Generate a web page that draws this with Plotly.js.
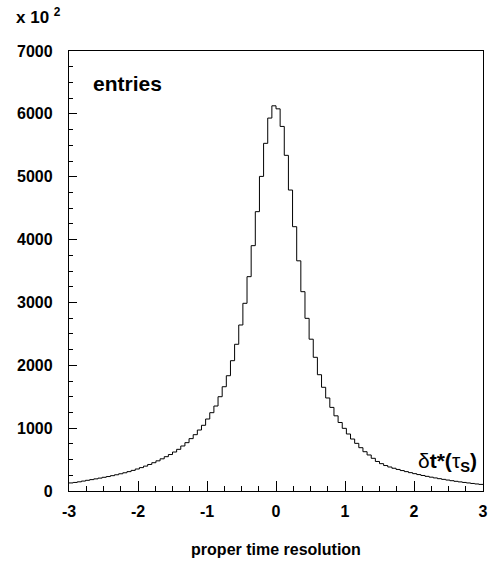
<!DOCTYPE html>
<html>
<head>
<meta charset="utf-8">
<script src="https://cdn.plot.ly/plotly-3.0.1.min.js"></script>
<style>html,body{margin:0;padding:0;background:#fff;}#chart{width:488px;height:566px;}</style>
</head>
<body>
<div id="chart"></div>
<script>
// Histogram definition (proper time resolution, units of tau_S), counts in units of 10^2
const xMin = -3;
const xMax = 3;
const counts = [
  128, 136, 146, 158, 170, 181, 193, 205, 218, 230,
  244, 258, 274, 290, 308, 328, 350, 372, 396, 422,
  450, 480, 512, 546, 580, 620, 663, 716, 769, 833,
  896, 970, 1045, 1145, 1246, 1352, 1500, 1659, 1834, 2073,
  2334, 2641, 2986, 3410, 3903, 4444, 5005, 5531, 5933, 6128,
  6080, 5800, 5340, 4788, 4205, 3662, 3171, 2747, 2415, 2127,
  1850, 1650, 1480, 1330, 1196, 1090, 997, 907, 827, 758,
  689, 625, 573, 520, 470, 435, 405, 382, 362, 343,
  325, 308, 292, 276, 261, 247, 233, 220, 208, 196,
  185, 174, 164, 154, 145, 136, 128, 120, 112, 105
];
const xTickVals = [-3, -2, -1, 0, 1, 2, 3];
const xTickText = ['-3', '-2', '-1', '0', '1', '2', '3'];
const yTickVals = [0, 1000, 2000, 3000, 4000, 5000, 6000, 7000];
const yTickText = ['0', '1000', '2000', '3000', '4000', '5000', '6000', '7000'];

const nBins = counts.length;
const binW = (xMax - xMin) / nBins;
const xs = counts.map((_, i) => xMin + i * binW).concat([xMax]);
const ys = counts.concat([counts[nBins - 1]]);

const fontFam = 'Liberation Sans, Arial, sans-serif';
const trace = {
  x: xs, y: ys, type: 'scatter', mode: 'lines',
  line: {shape: 'hv', color: '#000', width: 1},
  hoverinfo: 'skip'
};

const layout = {
  width: 488, height: 566,
  margin: {l: 69, r: 5, t: 51, b: 75},
  paper_bgcolor: '#fff', plot_bgcolor: '#fff',
  showlegend: false,
  font: {family: fontFam, color: '#000'},
  xaxis: {
    range: [xMin, xMax], showgrid: false, zeroline: false,
    showline: true, mirror: true, linecolor: '#000', linewidth: 1.2,
    ticks: 'inside', ticklen: 10, tickwidth: 1, tickcolor: '#000',
    tickvals: xTickVals, ticktext: xTickText,
    tickfont: {family: fontFam, size: 16, weight: 'bold', color: '#000'},
    ticklabelstandoff: 6,
    minor: {dtick: 0.25, ticks: 'inside', ticklen: 5, tickcolor: '#000', tickwidth: 1, showgrid: false},
    title: {text: 'proper time resolution', font: {family: fontFam, size: 16, weight: 'bold', color: '#000'}, standoff: 24},
    fixedrange: true
  },
  yaxis: {
    range: [0, 7000], showgrid: false, zeroline: false,
    showline: true, mirror: true, linecolor: '#000', linewidth: 1.2,
    ticks: 'inside', ticklen: 8, tickwidth: 1, tickcolor: '#000',
    tickvals: yTickVals, ticktext: yTickText,
    tickfont: {family: fontFam, size: 16, weight: 'bold', color: '#000'},
    ticklabelstandoff: 12,
    minor: {dtick: 250, ticks: 'inside', ticklen: 4, tickcolor: '#000', tickwidth: 1, showgrid: false},
    fixedrange: true
  },
  annotations: [
    {xref: 'paper', yref: 'paper', x: 0.142, y: 0.925, xanchor: 'center', yanchor: 'middle',
     text: 'entries', showarrow: false, font: {family: fontFam, size: 21, weight: 'bold', color: '#000'}},
    {xref: 'paper', yref: 'paper', x: 0.99, y: 0.066, xanchor: 'right', yanchor: 'middle',
     text: 'δ<b>t*(</b>τ<sub><b>S</b></sub><b>)</b>', showarrow: false, font: {family: fontFam, size: 21, color: '#000'}},
    {xref: 'paper', yref: 'paper', x: -0.134, y: 1.08, xanchor: 'left', yanchor: 'middle',
     text: 'x 10 <sup>2</sup>', showarrow: false, font: {family: fontFam, size: 17, weight: 'bold', color: '#000'}}
  ]
};

Plotly.newPlot('chart', [trace], layout, {displayModeBar: false, staticPlot: true});
</script>
</body>
</html>
